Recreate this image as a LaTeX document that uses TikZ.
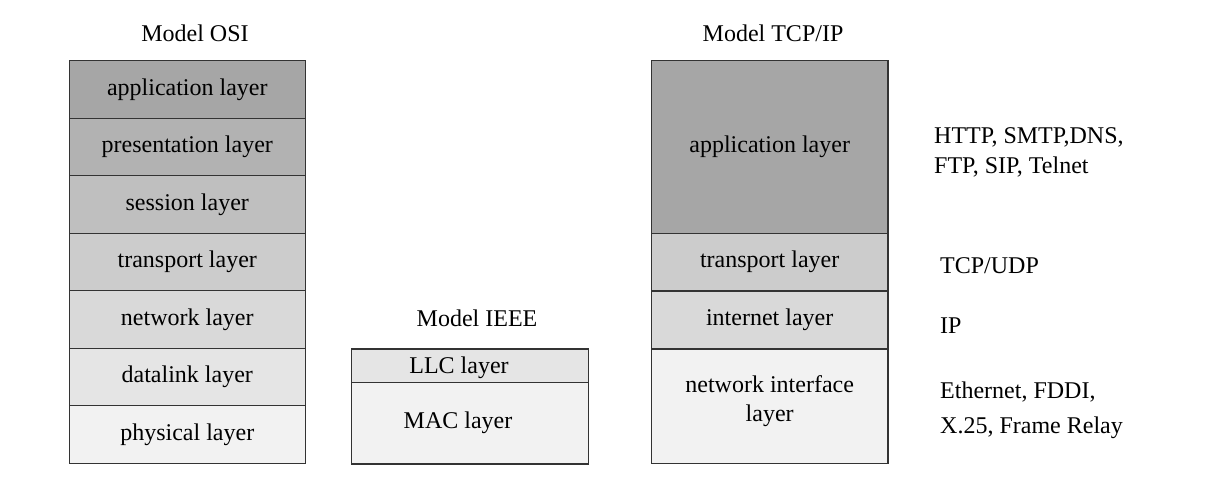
\documentclass[tikz,border=0pt]{standalone}
\usepackage{fontspec}
\setmainfont{Liberation Serif}
\definecolor{g1}{HTML}{A6A6A6}
\definecolor{g2}{HTML}{B2B2B2}
\definecolor{g3}{HTML}{BFBFBF}
\definecolor{g4}{HTML}{CCCCCC}
\definecolor{g5}{HTML}{D9D9D9}
\definecolor{g6}{HTML}{E5E5E5}
\definecolor{g7}{HTML}{F2F2F2}
\definecolor{edge}{HTML}{333333}
\begin{document}
\begin{tikzpicture}[x=1pt,y=-1pt,
  every node/.style={font=\fontsize{24}{29}\selectfont, inner sep=0pt},
  layer/.style={draw=edge, line width=1.1pt, minimum width=236.5pt, align=center},
  osi/.style={layer, minimum height=57.5pt},
  title/.style={anchor=base},
  proto/.style={anchor=base west}]
\useasboundingbox (0,0) rectangle (1221,484);
% OSI
\node[title] (tosi) at (195,41.7) {Model OSI};
\node[osi, fill=g1] (app) at (187.3,89.5) {application layer};
\node[osi, fill=g2] (pres) at (187.3,147) {presentation layer};
\node[osi, fill=g3] (sess) at (187.3,204.5) {session layer};
\node[osi, fill=g4] (trans) at (187.3,262) {transport layer};
\node[osi, fill=g5] (net) at (187.3,319.5) {network layer};
\node[osi, fill=g6] (dl) at (187.3,377) {datalink layer};
\node[osi, fill=g7] (phys) at (187.3,434.5) {physical layer};
% IEEE
\node[title] (tieee) at (477,326) {Model IEEE};
\node[layer, fill=g6, minimum height=33.7pt] (llc) at (470,365.8) {};
\node[layer, fill=g7, minimum height=81.3pt] (mac) at (470,423.3) {};
\node (llct) at (459,368) {LLC layer};
\node (mact) at (458,423) {MAC layer};
% TCP/IP
\node[title] (ttcp) at (773,41.7) {Model TCP/IP};
\node[layer, fill=g1, minimum height=172.6pt] (tapp) at (769.7,147) {application layer};
\node[layer, fill=g4, minimum height=57.7pt] (ttrans) at (769.7,262.2) {transport layer};
\node[layer, fill=g5, minimum height=58pt] (tinet) at (769.7,320) {internet layer};
\node[layer, fill=g7, minimum height=114.3pt] (tni) at (769.7,406.2) {};
\node[align=center, font=\fontsize{24}{28.5}\selectfont] (tnit) at (769.7,401) {network interface\\layer};
% protocols
\node[proto] (p1) at (934,143) {HTTP, SMTP,DNS,};
\node[proto] (p2) at (934,173.5) {FTP, SIP, Telnet};
\node[proto] (p3) at (940,273) {TCP/UDP};
\node[proto] (p4) at (940,333) {IP};
\node[proto] (p5) at (940,398) {Ethernet, FDDI,};
\node[proto] (p6) at (940,433.5) {X.25, Frame Relay};
\end{tikzpicture}
\end{document}
